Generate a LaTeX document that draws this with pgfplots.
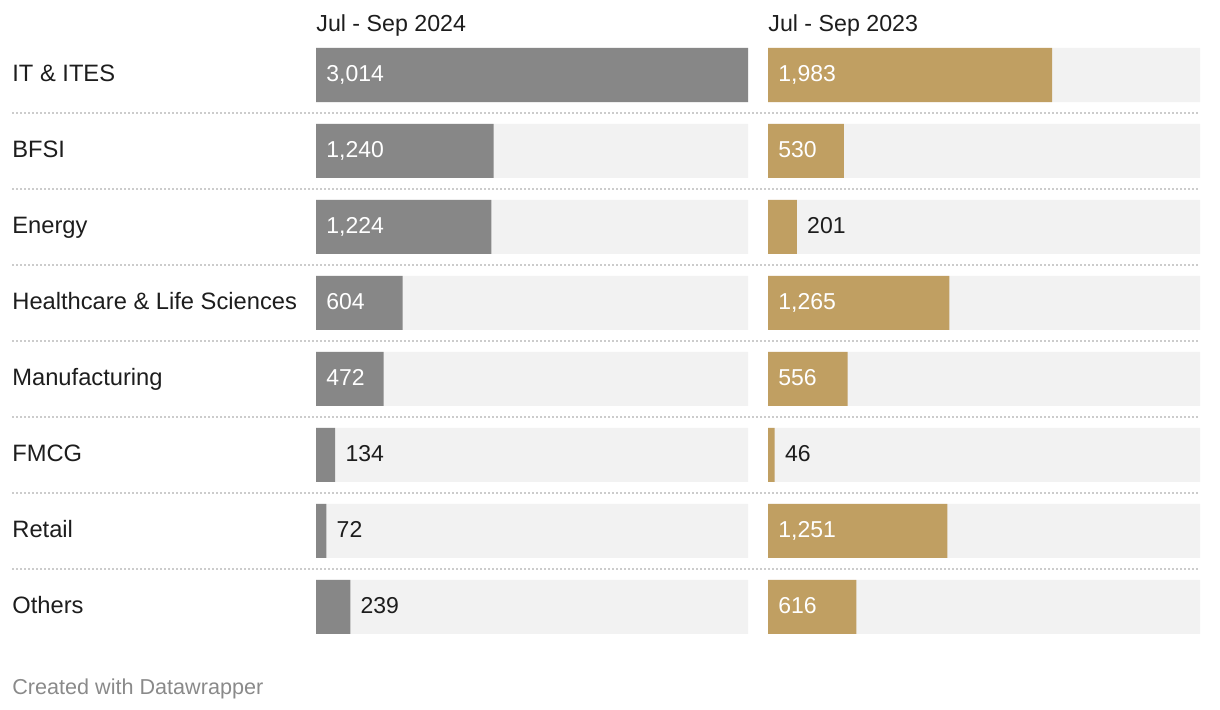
\documentclass[border=0pt]{standalone}
\usepackage{pgfplots}
\pgfplotsset{compat=1.18}
\usepackage{pgfplotstable}
\usepackage{fontspec}
\setmainfont{Liberation Sans}
\definecolor{bargray}{HTML}{878787}
\definecolor{bargold}{HTML}{C09F62}
\definecolor{bgbar}{HTML}{F2F2F2}
\definecolor{txt}{HTML}{1D1D1D}
\definecolor{sep}{HTML}{CCCCCC}
\definecolor{foot}{HTML}{8A8A8A}

\pgfplotstableread{
row val
0 3014
1 1240
2 1224
3 604
4 472
5 134
6 72
7 239
}\dataA
\pgfplotstableread{
row val
0 1983
1 530
2 201
3 1265
4 556
5 46
6 1251
7 616
}\dataB
\pgfplotstableread{
row x label
0 0 3,014
1 0 1,240
2 0 1,224
3 0 604
4 0 472
}\inA
\pgfplotstableread{
row x label
5 134 134
6 72 72
7 239 239
}\outA
\pgfplotstableread{
row x label
0 0 1,983
1 0 530
3 0 1,265
4 0 556
6 0 1,251
7 0 616
}\inB
\pgfplotstableread{
row x label
2 201 201
5 46 46
}\outB
\pgfplotstableread{
row x
0 3014
1 3014
2 3014
3 3014
4 3014
5 3014
6 3014
7 3014
}\bg

\pgfplotsset{
  every axis title shift=0pt,
  panel/.style={
    anchor=north west,
    scale only axis,
    width=216pt, height=304pt,
    xmin=0, xmax=3014, ymin=-0.5, ymax=7.5,
    y dir=reverse,
    axis line style={draw=none},
    xtick=\empty,
    tick style={draw=none},
    clip=false,
    title style={at={(0,1)}, anchor=base west, yshift=2.5pt, inner sep=0pt, text=txt, font=\fontsize{11.6}{13}\selectfont},
  },
  labin/.style={only marks, mark=none, nodes near coords, point meta=explicit symbolic,
    nodes near coords style={anchor=west, inner sep=0pt, xshift=5pt, yshift=0.9pt, text=white, text height=8.2pt, text depth=0pt, font=\fontsize{11.5}{13}\selectfont}},
  labout/.style={only marks, mark=none, nodes near coords, point meta=explicit symbolic,
    nodes near coords style={anchor=west, inner sep=0pt, xshift=5pt, yshift=0.9pt, text=txt, text height=8.2pt, text depth=0pt, font=\fontsize{11.5}{13}\selectfont}},
}

\begin{document}
\begin{tikzpicture}
\useasboundingbox (0,0) rectangle (610pt,-355pt);
\foreach \i in {0,...,6} {
  \draw[sep, line width=0.6pt, dash pattern=on 1pt off 1pt] (6pt,{-(56.5+38*\i)*1pt}) -- (600pt,{-(56.5+38*\i)*1pt});
}
\begin{axis}[panel, at={(158pt,-18.5pt)},
  title={Jul - Sep 2024},
  ytick={0,...,7},
  yticklabels={IT \& ITES, BFSI, Energy, Healthcare \& Life Sciences, Manufacturing, FMCG, Retail, Others},
  yticklabel style={anchor=west, inner sep=0pt, xshift=-152pt, yshift=0.9pt, text=txt, text height=8.4pt, text depth=0pt, font=\fontsize{11.85}{13}\selectfont},
]
\addplot[xbar, bar width=27pt, fill=bgbar, draw=none] table[x=x, y=row] {\bg};
\addplot[xbar, bar width=27pt, fill=bargray, draw=none] table[x=val, y=row] {\dataA};
\addplot[labin] table[x=x, y=row, meta=label] {\inA};
\addplot[labout] table[x=x, y=row, meta=label] {\outA};
\end{axis}
\begin{axis}[panel, at={(384pt,-18.5pt)},
  title={Jul - Sep 2023},
  ytick=\empty,
]
\addplot[xbar, bar width=27pt, fill=bgbar, draw=none] table[x=x, y=row] {\bg};
\addplot[xbar, bar width=27pt, fill=bargold, draw=none] table[x=val, y=row] {\dataB};
\addplot[labin] table[x=x, y=row, meta=label] {\inB};
\addplot[labout] table[x=x, y=row, meta=label] {\outB};
\end{axis}
\node[anchor=base west, inner sep=0pt, text=foot, font=\fontsize{10.8}{12}\selectfont] at (6pt,-347pt) {Created with Datawrapper};
\end{tikzpicture}
\end{document}
